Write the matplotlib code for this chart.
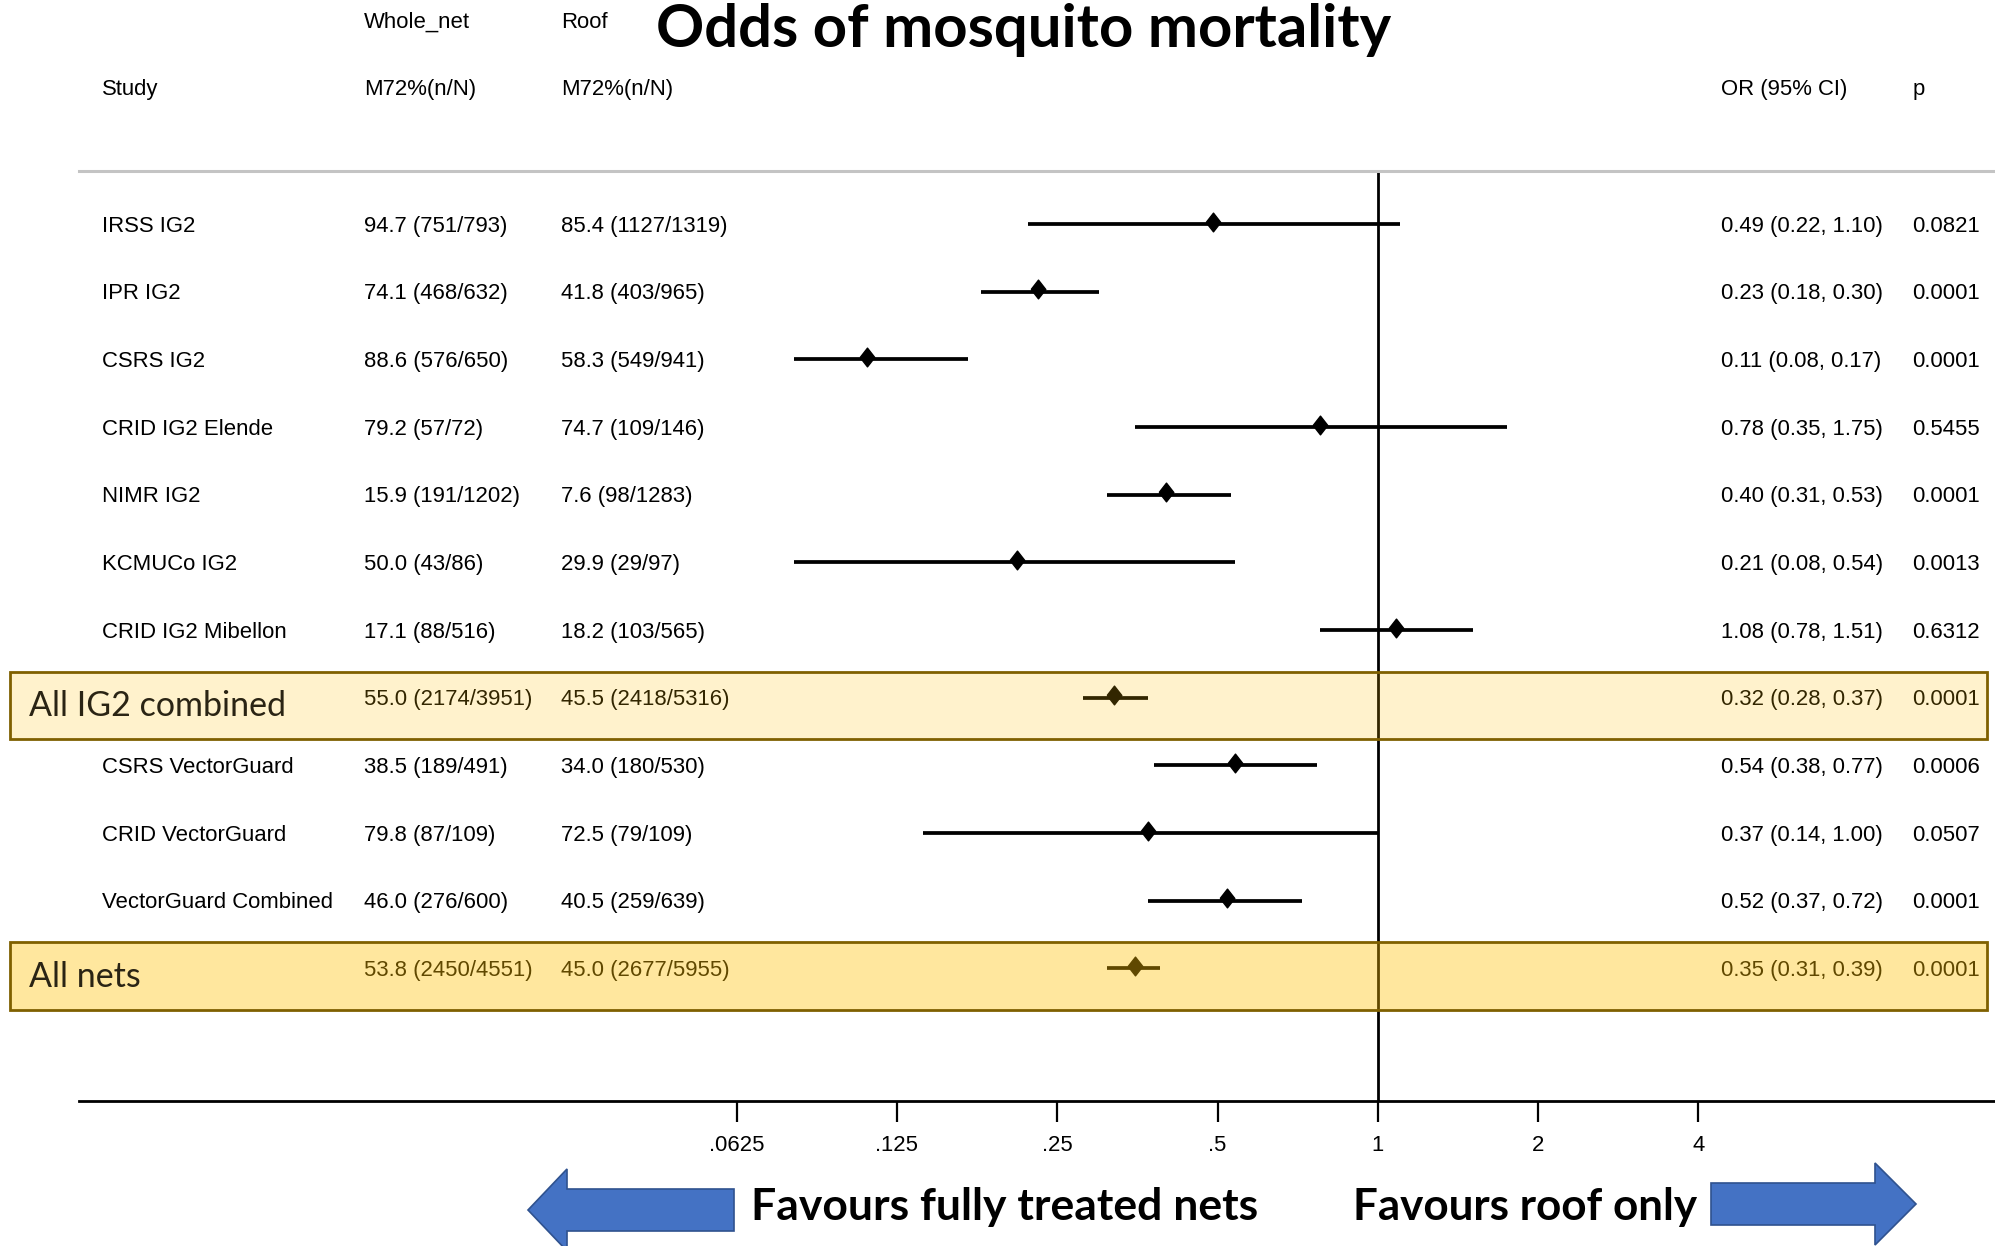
import matplotlib
matplotlib.use("Agg")
import matplotlib.pyplot as plt
import matplotlib.transforms as mtransforms
from matplotlib.patches import Rectangle, Polygon

# data
studies = ["IRSS IG2", "IPR IG2", "CSRS IG2", "CRID IG2 Elende", "NIMR IG2",
           "KCMUCo IG2", "CRID IG2 Mibellon", "All IG2 combined",
           "CSRS VectorGuard", "CRID VectorGuard", "VectorGuard Combined", "All nets"]
whole_net = ["94.7 (751/793)", "74.1 (468/632)", "88.6 (576/650)", "79.2 (57/72)",
             "15.9 (191/1202)", "50.0 (43/86)", "17.1 (88/516)", "55.0 (2174/3951)",
             "38.5 (189/491)", "79.8 (87/109)", "46.0 (276/600)", "53.8 (2450/4551)"]
roof = ["85.4 (1127/1319)", "41.8 (403/965)", "58.3 (549/941)", "74.7 (109/146)",
        "7.6 (98/1283)", "29.9 (29/97)", "18.2 (103/565)", "45.5 (2418/5316)",
        "34.0 (180/530)", "72.5 (79/109)", "40.5 (259/639)", "45.0 (2677/5955)"]
odds = [0.49, 0.23, 0.11, 0.78, 0.40, 0.21, 1.08, 0.32, 0.54, 0.37, 0.52, 0.35]
lower = [0.22, 0.18, 0.08, 0.35, 0.31, 0.08, 0.78, 0.28, 0.38, 0.14, 0.37, 0.31]
upper = [1.10, 0.30, 0.17, 1.75, 0.53, 0.54, 1.51, 0.37, 0.77, 1.00, 0.72, 0.39]
pvals = ["0.0821", "0.0001", "0.0001", "0.5455", "0.0001", "0.0013", "0.6312",
         "0.0001", "0.0006", "0.0507", "0.0001", "0.0001"]
summary_rows = {8: 0.2, 12: 0.38}   # row -> overlay opacity
tick_vals = [0.0625, 0.125, 0.25, 0.5, 1, 2, 4]
tick_labels = [".0625", ".125", ".25", ".5", "1", "2", "4"]

W, H = 1995, 1246
def fx(px):
    return px / W
def fy(py):
    return 1 - py / H

BODY = "Liberation Sans"
CAL = "Lato"
FS = 15.9

fig = plt.figure(figsize=(W / 100, H / 100), dpi=100)
ax = fig.add_axes([fx(79), fy(1100.7), 1 - fx(79), fy(170.5) - fy(1100.7)])

rows = list(range(1, len(studies) + 1))
ax.set_xscale("log", base=2)
ax.set_xlim(2 ** (-8.103), 2 ** 3.85)
ax.set_ylim(13.957, 0.209)

ax.axvline(1, color="black", lw=2, zorder=2)
ax.hlines(rows, lower, upper, color="black", lw=2.7, zorder=2)
diamond = [(-0.78, 0), (0, 1), (0.78, 0), (0, -1), (-0.78, 0)]
ax.plot(odds, [r - 0.035 for r in rows], ls="none", marker=diamond, ms=13.5,
        mfc="black", mec="black", mew=1, zorder=3)

for s in ["left", "right"]:
    ax.spines[s].set_visible(False)
ax.spines["top"].set_color("#c4c4c4")
ax.spines["top"].set_linewidth(2.2)
ax.spines["bottom"].set_linewidth(2.0)
ax.set_yticks([])
ax.set_xticks(tick_vals)
ax.set_xticklabels(tick_labels, fontfamily=BODY, fontsize=FS)
ax.xaxis.set_minor_locator(matplotlib.ticker.NullLocator())
ax.tick_params(axis="x", direction="out", length=15, width=1.6, pad=10)

# table columns
trans = mtransforms.blended_transform_factory(fig.transFigure, ax.transData)
col_x = [fx(101.8), fx(363.9), fx(561), fx(1721.4), fx(1912.3)]
base_off = 0.114
for i, r in enumerate(rows):
    or_txt = f"{odds[i]:.2f} ({lower[i]:.2f}, {upper[i]:.2f})"
    cells = [None if r in summary_rows else studies[i], whole_net[i], roof[i], or_txt, pvals[i]]
    for x, txt in zip(col_x, cells):
        if txt is None:
            continue
        ax.text(x, r + base_off, txt, transform=trans, ha="left", va="baseline",
                fontfamily=BODY, fontsize=FS, color="black", clip_on=False, zorder=3)

# highlighted summary rows
for r, a in summary_rows.items():
    ax.add_patch(Rectangle((fx(10), r - 0.385), fx(1987) - fx(10), 1.0, transform=trans,
                           facecolor=(1, 0.753, 0, a), edgecolor="#7f6000", lw=2.0,
                           clip_on=False, zorder=4))
    ax.text(fx(29), r + 0.27, studies[r - 1], transform=trans, ha="left", va="baseline",
            fontfamily=CAL, fontsize=24.5, color="#2a2414", clip_on=False, zorder=5)

# headers
for x, y, txt in [(363.9, 28, "Whole_net"), (561, 28, "Roof"), (101.8, 95, "Study"),
                  (363.9, 95, "M72%(n/N)"), (561, 95, "M72%(n/N)"),
                  (1721.4, 95, "OR (95% CI)"), (1912.3, 95, "p")]:
    fig.text(fx(x), fy(y), txt, ha="left", va="baseline", fontfamily=BODY, fontsize=FS)

fig.text(fx(1024), fy(47), "Odds of mosquito mortality", ha="center", va="baseline",
         fontfamily=CAL, fontweight="bold", fontsize=43)

# direction arrows
left_arrow = [(528, 1210), (567, 1169), (567, 1189), (734, 1189), (734, 1231),
              (567, 1231), (567, 1251)]
right_arrow = [(1916, 1204), (1875, 1163), (1875, 1183), (1711, 1183), (1711, 1225),
               (1875, 1225), (1875, 1245)]
for pts in [left_arrow, right_arrow]:
    fig.patches.append(Polygon([(fx(a), fy(b)) for a, b in pts], closed=True,
                               transform=fig.transFigure, facecolor="#4472c4",
                               edgecolor="#2f528f", lw=1.2))
fig.text(fx(1005), fy(1220), "Favours fully treated nets", ha="center", va="baseline",
         fontfamily=CAL, fontweight="bold", fontsize=32)
fig.text(fx(1525), fy(1220), "Favours roof only", ha="center", va="baseline",
         fontfamily=CAL, fontweight="bold", fontsize=31.7)

fig.savefig("out.png", dpi=100)
